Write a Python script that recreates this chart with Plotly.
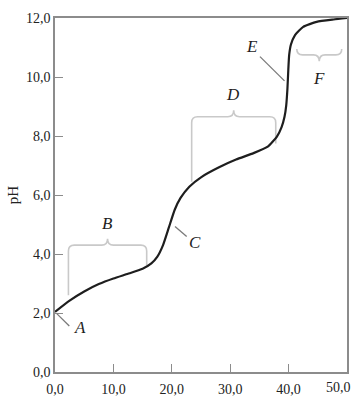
import plotly.graph_objects as go

# Titration curve data (volume added, pH)
volume = [0, 2.5, 5, 7.5, 10, 12.5, 15, 16.5, 17.5, 18.5, 19.5, 20.5, 21.5, 23, 25,
          28, 31, 34, 36.5, 38, 38.8, 39.3, 39.6, 39.8, 39.95, 40.1, 40.4, 41.1, 42.5,
          44.8, 47.7, 50]
ph = [2.04, 2.42, 2.73, 2.98, 3.17, 3.33, 3.5, 3.68, 3.9, 4.3, 4.9, 5.5, 5.9, 6.28, 6.6,
      6.93, 7.2, 7.42, 7.65, 7.98, 8.3, 8.65, 9.05, 9.6, 10.25, 10.75, 11.1, 11.42, 11.7,
      11.87, 11.95, 12.0]

x_ticks = [0, 10, 20, 30, 40, 50]
x_ticktext = ["0,0", "10,0", "20,0", "30,0", "40,0", ""]
x_last_label = "50,0"
y_ticks = [0, 2, 4, 6, 8, 10, 12]

# Region labels: (text, x, y)
labels = [("A", 4.2, 1.5), ("B", 8.95, 5.05), ("C", 24.0, 4.38),
          ("D", 30.4, 9.4), ("E", 33.8, 11.05), ("F", 45.2, 9.95)]
# Leader lines: (x0, y0, x1, y1)
leaders = [(0.3, 1.98, 2.45, 1.56), (20.55, 4.93, 22.55, 4.59), (35.1, 10.69, 39.3, 9.87)]
# Braces: (x_left, x_right, y_line, y_left_end, y_right_end, direction)
braces = [(2.3, 15.7, 4.3, 2.6, 3.63, 1), (23.4, 37.8, 8.65, 6.45, 7.75, 1),
          (41.4, 49.1, 10.75, 10.95, 10.95, -1)]

fig = go.Figure()
fig.add_trace(go.Scatter(x=volume, y=ph, mode="lines",
                         line=dict(color="#1e1e1e", width=2.2, shape="spline", smoothing=0.5),
                         hoverinfo="skip", showlegend=False))

gray = "#c9c9c9"
for (xl, xr, yl, yle, yre, d) in braces:
    rx = 1.0
    ry = 0.2 * d
    xc = (xl + xr) / 2
    cusp = 0.22 * d
    path = (f"M {xl},{yle} L {xl},{yl - ry} Q {xl},{yl} {xl + rx},{yl} "
            f"L {xc - rx},{yl} Q {xc},{yl} {xc},{yl + cusp} "
            f"Q {xc},{yl} {xc + rx},{yl} L {xr - rx},{yl} "
            f"Q {xr},{yl} {xr},{yl - ry} L {xr},{yre}")
    fig.add_shape(type="path", path=path, xref="x", yref="y",
                  line=dict(color=gray, width=1.6), layer="below")

for (x0, y0, x1, y1) in leaders:
    fig.add_shape(type="line", x0=x0, y0=y0, x1=x1, y1=y1, xref="x", yref="y",
                  line=dict(color="#7a7a7a", width=1.3))

for (t, x, y) in labels:
    fig.add_annotation(x=x, y=y, text=f"<i>{t}</i>", showarrow=False,
                       font=dict(family="Liberation Serif", size=17, color="#1e1e1e"))

tick_font = dict(family="Liberation Serif", size=14, color="#222")
fig.add_annotation(x=x_ticks[-1], y=0, xref="x", yref="paper", text=x_last_label,
                   showarrow=False, xanchor="right", yanchor="top", xshift=6, yshift=-6,
                   font=tick_font)

axis_common = dict(showgrid=False, zeroline=False, showline=True, linecolor="#8c8c8c",
                   linewidth=1.6, mirror=True, ticks="inside", ticklen=8,
                   tickcolor="#8c8c8c", tickwidth=1.4, automargin=False,
                   tickfont=tick_font)

fig.update_layout(
    width=358, height=398,
    margin=dict(l=55, r=11, t=18, b=26),
    paper_bgcolor="white", plot_bgcolor="white",
    separators=", ",
    xaxis=dict(range=[0, 50], tickvals=x_ticks, ticktext=x_ticktext,
               ticklabelstandoff=3, **axis_common),
    yaxis=dict(range=[0, 12], tickvals=y_ticks, tickformat=".1f",
               title=dict(text="pH", standoff=4,
                          font=dict(family="Liberation Serif", size=15, color="#222")),
               **axis_common),
)

fig.write_html("out.html")
